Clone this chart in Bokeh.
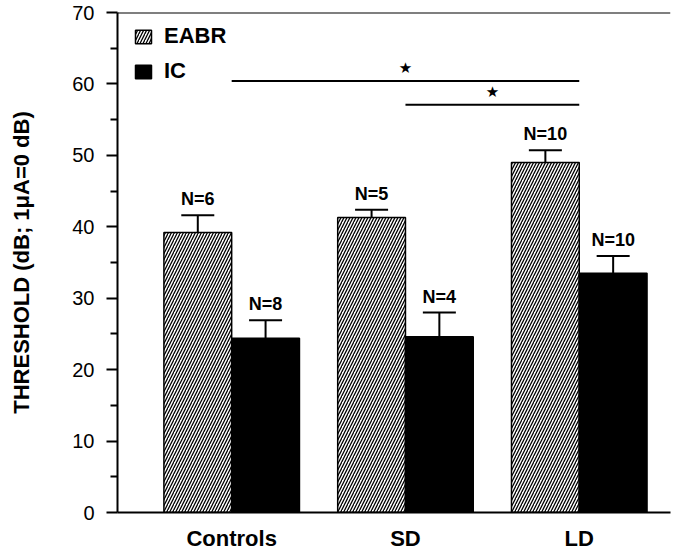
from bokeh.plotting import figure
from bokeh.models import (ColumnDataSource, Range1d, Whisker, TeeHead, Legend, LegendItem,
                          Span, FixedTicker)
from bokeh.core.properties import value
from bokeh.embed import file_html
from bokeh.resources import INLINE

categories = ["Controls", "SD", "LD"]
eabr_mean = [39.2, 41.3, 49.0]
eabr_err = [2.4, 1.1, 1.7]
eabr_n = ["N=6", "N=5", "N=10"]
ic_mean = [24.4, 24.6, 33.5]
ic_err = [2.5, 3.4, 2.4]
ic_n = ["N=8", "N=4", "N=10"]
sig_from = ["Controls", "SD"]
sig_to = ["LD", "LD"]
sig_y = [60.4, 57.1]
y_ticks = [0, 10, 20, 30, 40, 50, 60, 70]

BW = 0.39
FONT = "Liberation Sans"

pos = {c: i + 1 for i, c in enumerate(categories)}
xc = [pos[c] for c in categories]

eabr_src = ColumnDataSource(dict(
    x=[v - BW / 2 for v in xc], top=eabr_mean,
    upper=[m + e for m, e in zip(eabr_mean, eabr_err)], n=eabr_n))
ic_src = ColumnDataSource(dict(
    x=[v + BW / 2 for v in xc], top=ic_mean,
    upper=[m + e for m, e in zip(ic_mean, ic_err)], n=ic_n))

p = figure(width=677, height=556, output_backend="svg", toolbar_location=None,
           x_range=Range1d(0.343, 3.525), y_range=Range1d(0, 70),
           min_border_left=117, min_border_right=7, min_border_top=12, min_border_bottom=44)
p.grid.visible = False
p.outline_line_color = None
p.background_fill_color = "white"

r_e = p.vbar(x="x", top="top", width=BW, source=eabr_src, fill_color="white",
             line_color="black", line_width=1.5, hatch_pattern="right_diagonal_line",
             hatch_color="black", hatch_scale=6, hatch_weight=1.3)
r_i = p.vbar(x="x", top="top", width=BW, source=ic_src, fill_color="black",
             line_color="black", line_width=1.5)

for src in (eabr_src, ic_src):
    w = Whisker(source=src, base="x", lower="top", upper="upper", dimension="height",
                line_width=2, line_color="black",
                upper_head=TeeHead(size=33, line_width=2, line_color="black"), lower_head=None)
    p.add_layout(w)
    p.text(x="x", y="upper", text="n", source=src, text_align="center",
           text_baseline="bottom", y_offset=-6, text_font=value(FONT),
           text_font_style="bold", text_font_size="18px", text_color="black")

# significance bars
sx0 = [pos[c] for c in sig_from]
sx1 = [pos[c] for c in sig_to]
sig_src = ColumnDataSource(dict(x0=sx0, x1=sx1, y=sig_y,
                                xm=[(a + b) / 2 for a, b in zip(sx0, sx1)],
                                t=["★"] * len(sig_y)))
p.segment(x0="x0", y0="y", x1="x1", y1="y", source=sig_src, line_color="black", line_width=2)
p.text(x="xm", y="y", text="t", source=sig_src, text_align="center", text_baseline="middle",
       y_offset=-13, text_font=value("DejaVu Sans"), text_font_size="15px", text_color="black")

# top border line
p.add_layout(Span(location=70, dimension="width", line_color="black", line_width=2))

# axes
xa = p.xaxis[0]
xa.ticker = FixedTicker(ticks=xc)
xa.major_label_overrides = {pos[c]: c for c in categories}
xa.major_tick_line_color = None
xa.minor_tick_line_color = None
xa.axis_line_width = 2
xa.major_label_text_font = FONT
xa.major_label_text_font_style = "bold"
xa.major_label_text_font_size = "22px"
xa.major_label_text_color = "black"
xa.major_label_standoff = 7

ya = p.yaxis[0]
ya.ticker = FixedTicker(ticks=y_ticks, minor_ticks=[v + 5 for v in y_ticks[:-1]])
ya.axis_line_width = 2
ya.major_tick_line_width = 2
ya.minor_tick_line_width = 2
ya.major_tick_out = 11
ya.major_tick_in = 0
ya.minor_tick_out = 7
ya.minor_tick_in = 0
ya.major_label_text_font = FONT
ya.major_label_text_font_size = "20px"
ya.major_label_text_color = "black"
ya.major_label_standoff = 12
ya.axis_label = "THRESHOLD (dB; 1\u03bcA=0 dB)"
ya.axis_label_text_font = FONT
ya.axis_label_text_font_style = "bold"
ya.axis_label_text_font_size = "22px"
ya.axis_label_text_color = "black"
ya.axis_label_standoff = 35

legend = Legend(items=[LegendItem(label="EABR", renderers=[r_e]),
                       LegendItem(label="IC", renderers=[r_i])],
                location=(16, 428), margin=0, padding=0, border_line_color=None,
                background_fill_alpha=0, glyph_width=20, glyph_height=17, label_height=17,
                label_standoff=11, spacing=9, label_text_font=FONT,
                label_text_font_style="bold", label_text_font_size="22px",
                label_text_color="black", label_text_baseline="middle")
p.add_layout(legend)

open("out.html", "w").write(file_html(p, INLINE))
